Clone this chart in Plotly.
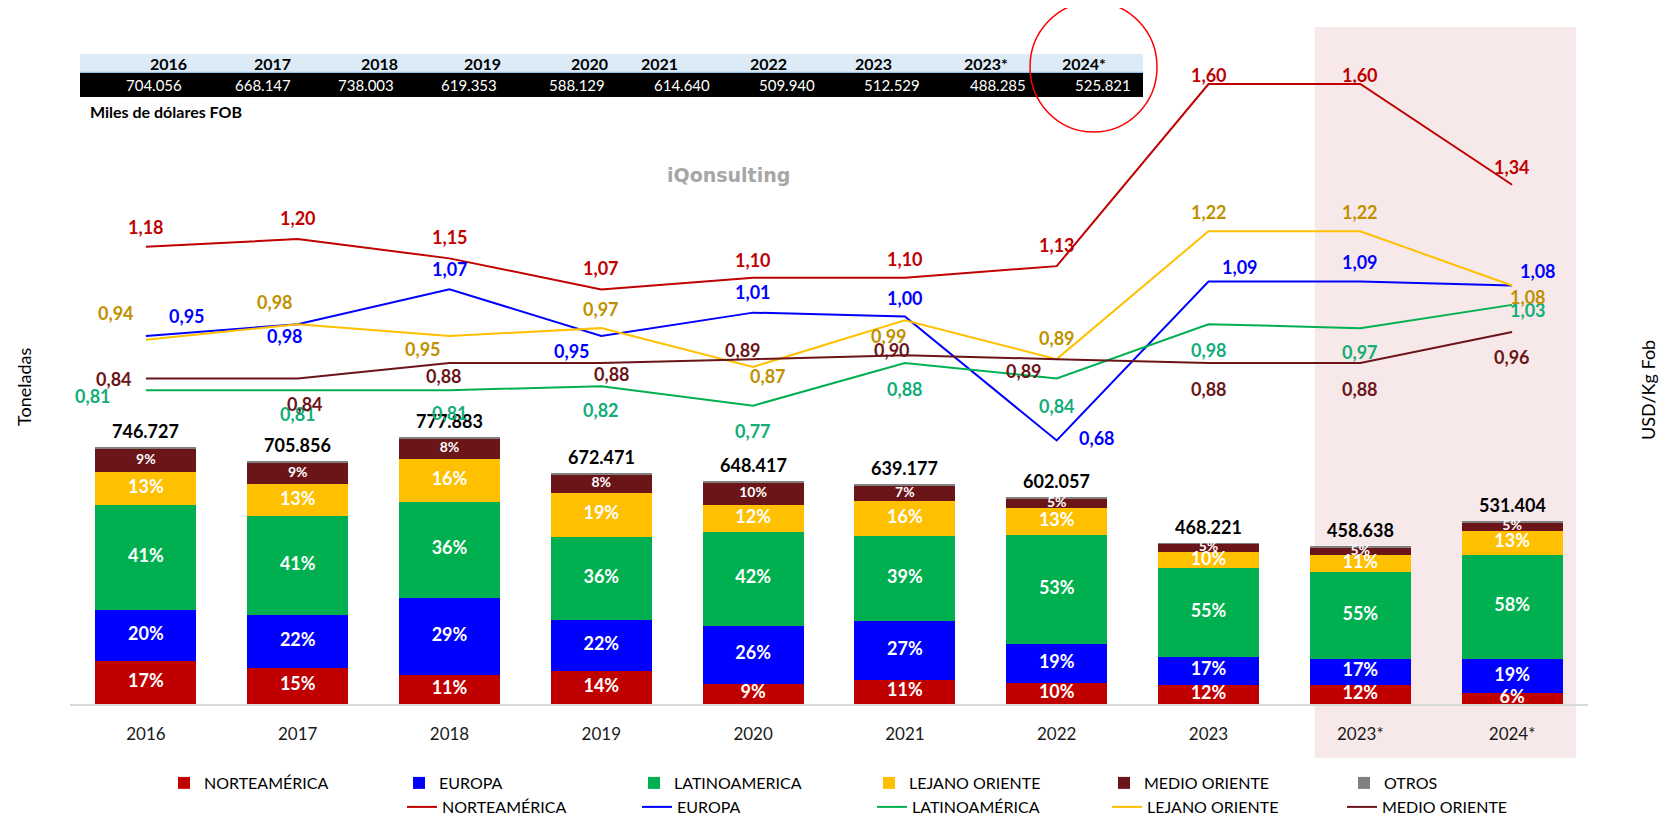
import plotly.graph_objects as go

# ---------------- DATA ----------------
years = ["2016", "2017", "2018", "2019", "2020", "2021", "2022", "2023", "2023*", "2024*"]
totals_t = [746727, 705856, 777883, 672471, 648417, 639177, 602057, 468221, 458638, 531404]

pct_norte = [17, 15, 11, 14, 9, 11, 10, 12, 12, 6]
pct_europa = [20, 22, 29, 22, 26, 27, 19, 17, 17, 19]
pct_latino = [41, 41, 36, 36, 42, 39, 53, 55, 55, 58]
pct_lejano = [13, 13, 16, 19, 12, 16, 13, 10, 11, 13]
pct_medio = [9, 9, 8, 8, 10, 7, 5, 5, 5, 5]
pct_otros = [0.5, 0.5, 0.5, 0.5, 0.5, 0.5, 0.5, 0.5, 0.5, 0.5]

price_norte = [1.18, 1.20, 1.15, 1.07, 1.10, 1.10, 1.13, 1.60, 1.60, 1.34]
price_europa = [0.95, 0.98, 1.07, 0.95, 1.01, 1.00, 0.68, 1.09, 1.09, 1.08]
price_latino = [0.81, 0.81, 0.81, 0.82, 0.77, 0.88, 0.84, 0.98, 0.97, 1.03]
price_lejano = [0.94, 0.98, 0.95, 0.97, 0.87, 0.99, 0.89, 1.22, 1.22, 1.08]
price_medio = [0.84, 0.84, 0.88, 0.88, 0.89, 0.90, 0.89, 0.88, 0.88, 0.96]

table_years = ["2016", "2017", "2018", "2019", "2020", "2021", "2022", "2023", "2023*", "2024*"]
table_fob = ["704.056", "668.147", "738.003", "619.353", "588.129", "614.640", "509.940", "512.529", "488.285", "525.821"]

# ---------------- STYLE ----------------
OFF = 8  # page body margin
W, H = 1667 - 2 * OFF, 827 - 2 * OFF
PLOT_L, PLOT_R, PLOT_T, PLOT_B = 70, 1588, 40, 704  # page coordinates of plot area
ML = PLOT_L - OFF
MR = W - (PLOT_R - OFF)
MT = PLOT_T - OFF
MB = H - (PLOT_B - OFF)
PW = PLOT_R - PLOT_L
PH = PLOT_B - PLOT_T
BAR_PX_PER_T = 256.6 / 746727.0
LINE_PX_PER_UNIT = 387.5
FONT = "Lato"


def pxx(X):
    return (X - PLOT_L) / PW


def pxy(Y):
    return (PLOT_B - Y) / PH


C_NORTE = "#C00000"
C_EUROPA = "#0000FF"
C_LATINO = "#00B050"
C_LEJANO = "#FFC000"
C_MEDIO = "#6B1519"
C_OTROS = "#808080"

LBL_NORTE = "#C00000"
LBL_EUROPA = "#0000FF"
LBL_LATINO = "#13AD78"
LBL_LEJANO = "#BF9000"
LBL_MEDIO = "#6B1519"

# label offsets (px) for line labels: (dx, dy up)
off_norte = [(0, 20), (0, 21), (0, 21), (0, 21), (0, 18), (0, 19), (0, 21), (0, 9), (0, 9), (0, 18)]
off_europa = [(41, 20), (-13, -12), (0, 20), (-29, -15), (0, 21), (0, 19), (40, 3), (31, 15), (0, 20), (26, 15)]
off_latino = [(-53, -6), (0, -24), (0, -23), (0, -24), (0, -25), (0, -26), (0, -27), (0, -26), (0, -24), (16, -5)]
off_lejano = [(-30, 27), (-23, 22), (-27, -13), (0, 19), (15, -9), (-16, -16), (0, 21), (0, 19), (0, 19), (16, -11)]
off_medio = [(-32, 0), (7, -25), (-6, -13), (11, -11), (-10, 9), (-13, 5), (-33, -12), (0, -26), (0, -26), (0, -25)]

fig = go.Figure()

segments = [
    ("NORTEAMÉRICA", pct_norte, C_NORTE, 18, "legend"),
    ("EUROPA", pct_europa, C_EUROPA, 18, "legend"),
    ("LATINOAMERICA", pct_latino, C_LATINO, 18, "legend"),
    ("LEJANO ORIENTE", pct_lejano, C_LEJANO, 18, "legend"),
    ("MEDIO ORIENTE", pct_medio, C_MEDIO, 14, "legend"),
    ("OTROS", pct_otros, C_OTROS, None, "legend3"),
]

n = len(years)
sums = [sum(s[1][i] for s in segments) for i in range(n)]
base = [0.0] * n
for name, pcts, col, fsize, leg in segments:
    vals = [totals_t[i] * pcts[i] / sums[i] for i in range(n)]
    fig.add_trace(go.Bar(
        x=years, y=vals, name=name, marker=dict(color=col, line=dict(width=0)),
        legend=leg, yaxis="y", hoverinfo="skip",
    ))
    if fsize is not None:
        mids = [base[i] + vals[i] / 2 for i in range(n)]
        fig.add_trace(go.Scatter(
            x=years, y=mids, mode="text", text=[f"{p}%" for p in pcts],
            textposition="middle center",
            textfont=dict(family=FONT, size=fsize, color="white", weight="bold"),
            showlegend=False, yaxis="y", hoverinfo="skip", cliponaxis=False,
        ))
    base = [base[i] + vals[i] for i in range(n)]

annotations = []
# total labels
for i in range(n):
    annotations.append(dict(
        x=i, y=totals_t[i], xref="x", yref="y",
        text=f"{totals_t[i]:,}".replace(",", "."), showarrow=False,
        yshift=16, font=dict(family=FONT, size=18, color="black", weight="bold"),
    ))

lines = [
    ("NORTEAMÉRICA", price_norte, C_NORTE, LBL_NORTE, off_norte),
    ("EUROPA", price_europa, C_EUROPA, LBL_EUROPA, off_europa),
    ("LATINOAMÉRICA", price_latino, C_LATINO, LBL_LATINO, off_latino),
    ("LEJANO ORIENTE", price_lejano, C_LEJANO, LBL_LEJANO, off_lejano),
    ("MEDIO ORIENTE", price_medio, C_MEDIO, LBL_MEDIO, off_medio),
]
for name, vals, col, lcol, offs in lines:
    fig.add_trace(go.Scatter(
        x=years, y=vals, name=name, mode="lines", line=dict(color=col, width=2),
        yaxis="y2", legend="legend2", hoverinfo="skip",
    ))
    for i in range(n):
        annotations.append(dict(
            x=i, y=vals[i], xref="x", yref="y2",
            text=f"{vals[i]:.2f}".replace(".", ","), showarrow=False,
            xshift=offs[i][0], yshift=offs[i][1],
            font=dict(family=FONT, size=18, color=lcol, weight="bold"),
        ))

shapes = []
shapes.append(dict(type="rect", xref="x", yref="paper", x0=7.70, x1=9.42,
                   y0=pxy(758), y1=pxy(27), fillcolor="#F7E9E9", line=dict(width=0), layer="below"))
shapes.append(dict(type="rect", xref="paper", yref="paper", x0=pxx(80), x1=pxx(1143),
                   y0=pxy(72), y1=pxy(54), fillcolor="#DDEBF7", line=dict(width=0), layer="above"))
shapes.append(dict(type="line", xref="paper", yref="paper", x0=pxx(80), x1=pxx(1143),
                   y0=pxy(72.5), y1=pxy(72.5), line=dict(color="#9BC2E6", width=1.5)))
shapes.append(dict(type="rect", xref="paper", yref="paper", x0=pxx(80), x1=pxx(1143),
                   y0=pxy(97), y1=pxy(73), fillcolor="black", line=dict(width=0), layer="above"))
shapes.append(dict(type="circle", xref="paper", yref="paper", x0=pxx(1030), x1=pxx(1157),
                   y0=pxy(132), y1=pxy(2), line=dict(color="#FF0000", width=1.5)))

hdr_right = [189, 293, 400, 503, 610, 680, 789, 894, 1010, 1108]
val_right = [184, 293, 396, 499, 607, 712, 817, 922, 1028, 1133]
for i in range(len(table_years)):
    annotations.append(dict(x=pxx(hdr_right[i]), y=pxy(63.5), xref="paper", yref="paper",
                            xanchor="right", yanchor="middle", showarrow=False, text=table_years[i],
                            font=dict(family=FONT, size=16, color="black", weight="bold")))
    annotations.append(dict(x=pxx(val_right[i]), y=pxy(85), xref="paper", yref="paper",
                            xanchor="right", yanchor="middle", showarrow=False, text=table_fob[i],
                            font=dict(family=FONT, size=15, color="white")))
annotations.append(dict(x=pxx(88), y=pxy(111), xref="paper", yref="paper", xanchor="left",
                        yanchor="middle", showarrow=False, text="Miles de dólares FOB",
                        font=dict(family=FONT, size=16, color="black", weight="bold")))
annotations.append(dict(x=pxx(728), y=pxy(175), xref="paper", yref="paper", showarrow=False,
                        xanchor="center", yanchor="middle",
                        text="iQonsulting", font=dict(family="DejaVu Sans", size=19, color="#A6A6A6", weight="bold")))
annotations.append(dict(x=pxx(24), y=pxy(387), xref="paper", yref="paper", showarrow=False,
                        xanchor="center", yanchor="middle", text="Toneladas", textangle=-90,
                        font=dict(family=FONT, size=18, color="black")))
annotations.append(dict(x=pxx(1648), y=pxy(390), xref="paper", yref="paper", showarrow=False,
                        xanchor="center", yanchor="middle", text="USD/Kg Fob", textangle=-90,
                        font=dict(family=FONT, size=18, color="black")))

LEG_FONT = dict(family=FONT, size=16, color="black")
ENTRY_W = 190

fig.update_layout(
    width=W, height=H,
    margin=dict(l=ML, r=MR, t=MT, b=MB, autoexpand=False),
    paper_bgcolor="white", plot_bgcolor="rgba(0,0,0,0)",
    barmode="stack", bargap=0.335,
    font=dict(family=FONT, color="black"),
    xaxis=dict(type="category", showgrid=False, showline=True, linecolor="#D9D9D9", linewidth=1.5,
               ticks="", tickfont=dict(family=FONT, size=17, color="#1a1a1a"), ticklabelstandoff=14,
               range=[-0.5, 9.5]),
    yaxis=dict(range=[0, PH / BAR_PX_PER_T], showgrid=False, showticklabels=False, zeroline=False,
               showline=False),
    yaxis2=dict(range=[0, PH / LINE_PX_PER_UNIT], overlaying="y", side="right", showgrid=False,
                showticklabels=False, zeroline=False, showline=False),
    legend=dict(orientation="h", x=pxx(164), y=pxy(766), xanchor="left", yanchor="top",
                entrywidth=ENTRY_W, entrywidthmode="pixels", traceorder="normal",
                font=LEG_FONT, bgcolor="rgba(0,0,0,0)"),
    legend2=dict(orientation="h", x=pxx(402), y=pxy(790), xanchor="left", yanchor="top",
                 entrywidth=ENTRY_W, entrywidthmode="pixels", traceorder="normal",
                 font=LEG_FONT, bgcolor="rgba(0,0,0,0)"),
    legend3=dict(orientation="h", x=pxx(164 + 5 * 236), y=pxy(766), xanchor="left", yanchor="top",
                 entrywidth=ENTRY_W, entrywidthmode="pixels", traceorder="normal",
                 font=LEG_FONT, bgcolor="rgba(0,0,0,0)"),
    shapes=shapes, annotations=annotations,
    showlegend=True,
)

fig.write_html("out.html")
